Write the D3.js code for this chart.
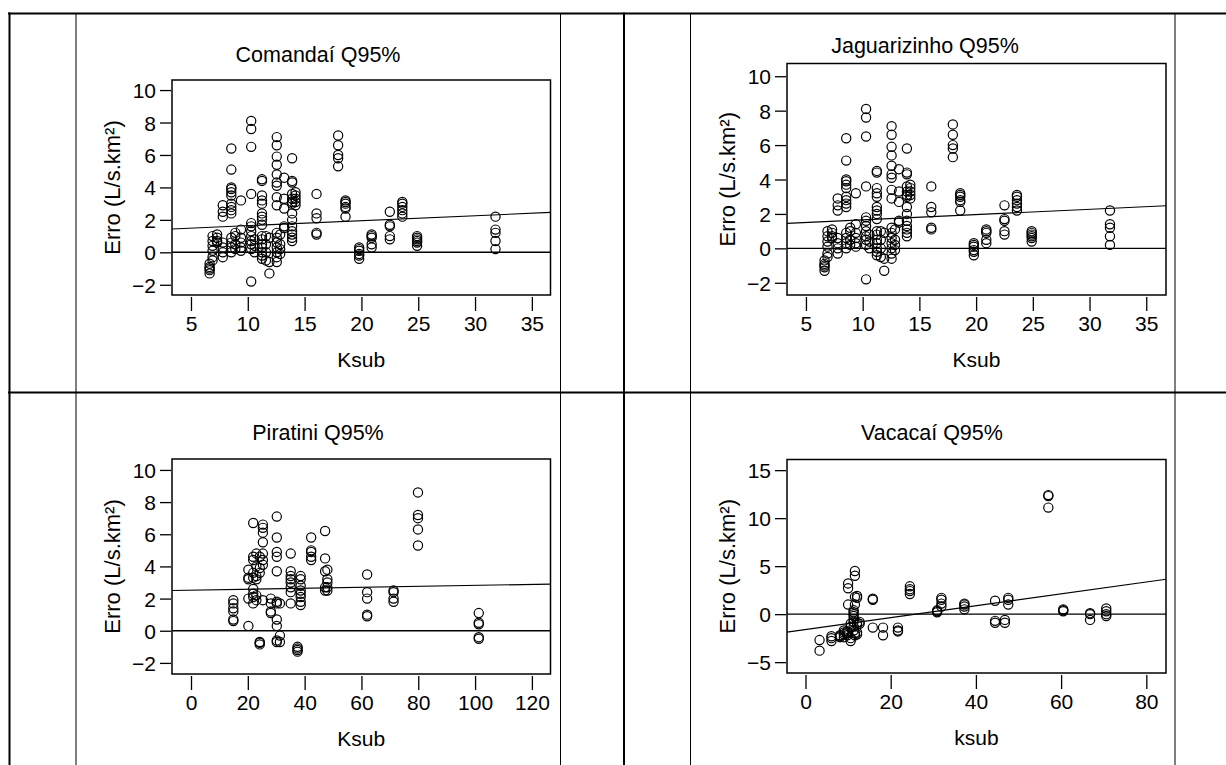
<!DOCTYPE html>
<html>
<head>
<meta charset="utf-8">
<script src="https://cdn.jsdelivr.net/npm/d3@7"></script>
<style>
  body { margin: 0; background: #fff; }
  text { font-family: "Liberation Sans", Arial, sans-serif; fill: #000; }
</style>
</head>
<body>
<svg width="1226" height="765"></svg>
<script>
// Comandaí Q95% (Jaguarizinho shows the same points)
var comandaiKsub = [6.64, 6.9, 7.3, 7.8, 8.55, 8.9, 9.4, 10.3, 10.6, 11.25, 11.6, 11.9, 12.55, 12.85, 13.2, 13.9, 14.2, 16.05, 17.95, 18.6, 19.8, 20.9, 22.5, 23.6, 24.9, 31.8];
var comandaiErro = [
  [-0.7, -0.9, -1.0, -1.1, -1.3],
  [1.0, 0.7, 0.4, 0.1, -0.3, -0.5],
  [1.1, 0.9, 0.7, 0.6],
  [2.9, 2.5, 2.2, 0.6, 0.3, 0.0, -0.3],
  [6.4, 5.1, 4.0, 3.9, 3.7, 3.5, 3.0, 2.8, 2.6, 2.4, 0.9, 0.6, 0.3, 0.0],
  [1.2, 1.0, 0.5, 0.2],
  [3.2, 1.4, 0.9, 0.6, 0.3, 0.1],
  [8.1, 7.6, 6.5, 3.6, 1.8, 1.6, 1.3, 1.0, 0.7, 0.5, 0.2, -1.8],
  [0.8, 0.4, 0.0],
  [4.5, 4.4, 3.5, 3.2, 3.0, 2.4, 2.2, 2.0, 1.7, 1.0, 0.8, 0.5, 0.3, 0.0, -0.2, -0.4],
  [1.0, 0.5, 0.0, -0.5],
  [0.9, -0.6, -1.3],
  [7.1, 6.6, 5.9, 5.4, 4.8, 4.3, 4.1, 3.4, 2.9, 1.2, 0.9, 0.6, 0.3, 0.0, -0.3, -0.6],
  [1.1, 0.5, 0.2, -0.1],
  [4.6, 3.3, 2.7, 1.6, 1.5],
  [5.8, 4.4, 4.3, 3.6, 3.3, 3.1, 3.0, 2.4, 2.0, 1.6, 1.3, 1.1, 0.9, 0.7],
  [3.7, 3.5, 3.3, 3.1, 2.9],
  [3.6, 2.4, 2.1, 1.2, 1.1],
  [7.2, 6.6, 6.0, 5.8, 5.3],
  [3.2, 3.1, 3.0, 2.8, 2.7, 2.2],
  [0.3, 0.2, 0.1, -0.1, -0.2, -0.4],
  [1.1, 1.0, 0.9, 0.5, 0.3],
  [2.5, 1.7, 1.6, 1.0, 0.8],
  [3.1, 3.0, 2.8, 2.6, 2.4, 2.2],
  [1.0, 0.9, 0.8, 0.7, 0.6, 0.4],
  [2.2, 1.4, 1.2, 0.7, 0.2]
];
var comandaiFit = [1.338, 0.0306]; // intercept, slope

var jaguarizinhoKsub = comandaiKsub;
var jaguarizinhoErro = comandaiErro;
var jaguarizinhoFit = [1.35, 0.0306];

// Piratini Q95%
var piratiniKsub = [14.9, 20.2, 21.9, 23.0, 24.2, 25.3, 28.1, 30.2, 31.3, 35.1, 37.5, 38.6, 42.3, 47.2, 48.0, 62.0, 71.3, 79.9, 101.3];
var piratiniErro = [
  [1.9, 1.7, 1.4, 1.2, 0.7, 0.6],
  [3.8, 3.3, 3.2, 2.0, 0.3],
  [6.7, 4.6, 4.4, 3.6, 3.3, 2.6, 2.3, 2.1, 1.7],
  [4.8, 4.0, 3.4, 3.2, 2.2, 1.9],
  [4.6, 3.9, 3.6, -0.7, -0.75, -0.85],
  [6.6, 6.4, 6.1, 5.5, 4.8, 4.4, 4.1, 1.9],
  [2.0, 1.7, 1.2, 1.1],
  [7.1, 5.8, 4.9, 4.6, 3.7, 1.8, 1.7, 0.7, 0.3, -0.6, -0.7],
  [1.7, -0.3, -0.7],
  [4.8, 3.7, 3.4, 3.2, 3.0, 2.7, 2.4, 1.7],
  [-1.0, -1.1, -1.2, -1.3],
  [3.4, 3.2, 2.8, 2.5, 2.3, 2.1, 1.8, 1.6],
  [5.8, 5.0, 4.9, 4.6, 4.4],
  [6.2, 4.5, 3.7, 2.7, 2.5],
  [3.8, 3.2, 3.0, 2.7, 2.5],
  [3.5, 2.4, 2.0, 1.0, 0.9],
  [2.5, 2.4, 2.0, 1.8],
  [8.6, 7.2, 7.0, 6.3, 5.3],
  [1.1, 0.5, 0.4, -0.4, -0.5]
];
var piratiniFit = [2.52, 0.003];

// Vacacaí Q95%
var vacacaiKsub = [3.3, 6.1, 8.1, 9.0, 9.8, 10.0, 10.6, 11.3, 11.6, 12.1, 12.7, 15.8, 18.2, 21.7, 24.5, 30.9, 31.9, 37.3, 44.5, 46.8, 47.6, 57.0, 60.5, 66.8, 70.6];
var vacacaiErro = [
  [-2.7, -3.8],
  [-2.3, -2.5, -2.8],
  [-2.2, -2.4, -2.3],
  [-1.7, -1.9, -2.1, -2.4],
  [-1.8, -2.0, -2.2],
  [3.2, 2.7, 1.0],
  [-1.0, -1.3, -2.5, -2.8],
  [0.4, 0.2, 0.0, -0.2, -0.5, -0.8, -1.3, -1.7],
  [4.5, 4.0, 1.8, 1.0, -2.0, -2.2],
  [1.9, 1.7, -0.9, -1.1, -1.9, -2.1],
  [-0.8, -1.0],
  [1.6, 1.5, -1.4],
  [-1.4, -2.2],
  [-1.4, -1.7, -1.8],
  [2.9, 2.6, 2.4, 2.1],
  [0.4, 0.3, 0.2],
  [1.7, 1.5, 1.1, 0.8],
  [1.1, 1.0, 0.8, 0.5],
  [1.4, -0.7, -0.9],
  [-0.6, -0.9],
  [1.7, 1.5, 1.0],
  [12.4, 12.3, 11.1],
  [0.5, 0.4, 0.3],
  [0.1, 0.0, -0.6],
  [0.6, 0.3, 0.0, -0.2]
];
var vacacaiFit = [-1.60, 0.0619];

var ticksK35 = [5, 10, 15, 20, 25, 30, 35];
var ticksK120 = [0, 20, 40, 60, 80, 100, 120];
var ticksK80 = [0, 20, 40, 60, 80];
var ticksE10 = [-2, 0, 2, 4, 6, 8, 10];
var ticksE15 = [-5, 0, 5, 10, 15];

var svg = d3.select("svg");

// table grid
var grid = svg.append("g").attr("stroke", "#000");
grid.append("line").attr("x1", 8).attr("x2", 1226).attr("y1", 13.5).attr("y2", 13.5).attr("stroke-width", 2);
grid.append("line").attr("x1", 8).attr("x2", 1226).attr("y1", 392.5).attr("y2", 392.5).attr("stroke-width", 2);
grid.append("line").attr("x1", 9.5).attr("x2", 9.5).attr("y1", 12.5).attr("y2", 765).attr("stroke-width", 2);
grid.append("line").attr("x1", 624).attr("x2", 624).attr("y1", 12.5).attr("y2", 765).attr("stroke-width", 2);
[76, 560.5, 690.5, 1175].forEach(function(x) {
  grid.append("line").attr("x1", x).attr("x2", x).attr("y1", 14).attr("y2", 765).attr("stroke-width", 1);
});

function points(ks, es) {
  var out = [];
  ks.forEach(function(k, i) {
    es[i].forEach(function(e) { out.push([k, e]); });
  });
  return out;
}

function panel(p) {
  var x = d3.scaleLinear().domain(p.xDomain).range([p.left, p.right]);
  var y = d3.scaleLinear().domain(p.yDomain).range([p.bottom, p.top]);
  var g = svg.append("g");

  g.append("text")
    .attr("x", p.titleX).attr("y", p.titleY)
    .attr("text-anchor", "middle")
    .style("font-size", "21.5px")
    .text(p.title);

  // x axis
  var gx = g.append("g")
    .attr("transform", "translate(0," + (p.bottom + 2) + ")")
    .call(d3.axisBottom(x).tickValues(p.xTicks).tickSizeInner(14).tickSizeOuter(0).tickPadding(5));
  gx.select(".domain").remove();
  gx.selectAll("line").attr("stroke", "#000").attr("stroke-width", 1.3);
  gx.selectAll("text").style("font-size", "21px");
  gx.attr("font-family", null).attr("font-size", null);

  // y axis
  var gy = g.append("g")
    .attr("transform", "translate(" + (p.left - 1) + ",0)")
    .call(d3.axisLeft(y).tickValues(p.yTicks).tickSizeInner(11).tickSizeOuter(0).tickPadding(4));
  gy.select(".domain").remove();
  gy.selectAll("line").attr("stroke", "#000").attr("stroke-width", 1.3);
  gy.selectAll("text").style("font-size", "21px").attr("dy", "0.36em");
  gy.attr("font-family", null).attr("font-size", null);

  g.append("text")
    .attr("x", (p.left + p.right) / 2).attr("y", p.bottom + 71.5)
    .attr("text-anchor", "middle")
    .style("font-size", "21px")
    .text(p.xLabel);

  g.append("text")
    .attr("transform", "translate(" + (p.left - 52) + "," + ((p.top + p.bottom) / 2) + ") rotate(-90)")
    .attr("text-anchor", "middle")
    .style("font-size", "22px")
    .text("Erro (L/s.km²)");

  // zero line
  g.append("line")
    .attr("x1", x(p.xDomain[0])).attr("x2", x(p.xDomain[1]))
    .attr("y1", y(0)).attr("y2", y(0))
    .attr("stroke", "#000").attr("stroke-width", 1.4);

  // fit line
  var f = function(k) { return p.fit[0] + p.fit[1] * k; };
  g.append("line")
    .attr("x1", x(p.xDomain[0])).attr("x2", x(p.xDomain[1]))
    .attr("y1", y(f(p.xDomain[0]))).attr("y2", y(f(p.xDomain[1])))
    .attr("stroke", "#000").attr("stroke-width", 1.1);

  g.append("g").selectAll("circle")
    .data(points(p.ksub, p.erro))
    .enter().append("circle")
    .attr("cx", function(d) { return x(d[0]); })
    .attr("cy", function(d) { return y(d[1]); })
    .attr("r", 4.6)
    .attr("fill", "none")
    .attr("stroke", "#000")
    .attr("stroke-width", 1.2);

  g.append("rect")
    .attr("x", p.left).attr("y", p.top)
    .attr("width", p.right - p.left).attr("height", p.bottom - p.top)
    .attr("fill", "none").attr("stroke", "#000").attr("stroke-width", 1.5);
}

panel({
  title: "Comandaí Q95%", titleX: 318, titleY: 62, xLabel: "Ksub",
  left: 172, right: 550.5, top: 80, bottom: 295,
  xDomain: [3.33, 36.64], yDomain: [-2.63, 10.62],
  xTicks: ticksK35, yTicks: ticksE10,
  ksub: comandaiKsub, erro: comandaiErro, fit: comandaiFit
});
panel({
  title: "Jaguarizinho Q95%", titleX: 925, titleY: 53, xLabel: "Ksub",
  left: 787, right: 1166, top: 63.5, bottom: 295,
  xDomain: [3.33, 36.74], yDomain: [-2.71, 10.74],
  xTicks: ticksK35, yTicks: ticksE10,
  ksub: jaguarizinhoKsub, erro: jaguarizinhoErro, fit: jaguarizinhoFit
});
panel({
  title: "Piratini Q95%", titleX: 318, titleY: 440, xLabel: "Ksub",
  left: 172, right: 550.5, top: 459, bottom: 674,
  xDomain: [-6.69, 126.55], yDomain: [-2.69, 10.68],
  xTicks: ticksK120, yTicks: ticksE10,
  ksub: piratiniKsub, erro: piratiniErro, fit: piratiniFit
});
panel({
  title: "Vacacaí Q95%", titleX: 932, titleY: 440, xLabel: "ksub",
  left: 787, right: 1166, top: 459.5, bottom: 673,
  xDomain: [-4.34, 84.62], yDomain: [-6.13, 16.11],
  xTicks: ticksK80, yTicks: ticksE15,
  ksub: vacacaiKsub, erro: vacacaiErro, fit: vacacaiFit
});
</script>
</body>
</html>
